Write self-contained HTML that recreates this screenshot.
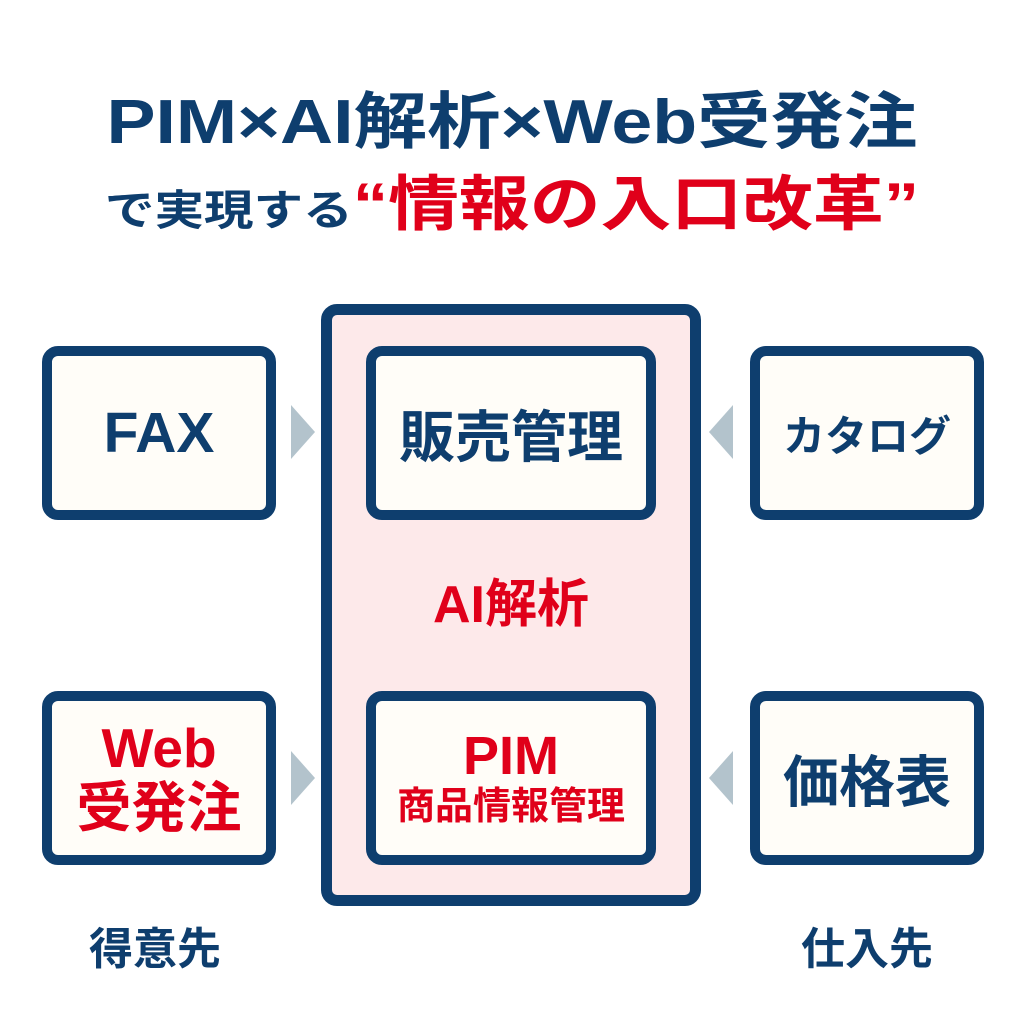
<!DOCTYPE html>
<html><head><meta charset="utf-8"><style>
body{margin:0;width:1024px;height:1024px;background:#fff;position:relative;overflow:hidden;font-family:"Liberation Sans","Noto Sans CJK JP",sans-serif;font-weight:bold;color:#0e3e6e}
.a{position:absolute}
.box{position:absolute;box-sizing:border-box;border:10px solid #0e3e6e;border-radius:16px;background:#fffdf8;display:flex;flex-direction:column;align-items:center;justify-content:center;text-align:center}
.red{color:#e0001a}
.tri{position:absolute;width:0;height:0;border-top:27px solid transparent;border-bottom:27px solid transparent}
.r{border-left:24px solid #b3c3cc}
.l{border-right:24px solid #b3c3cc}
</style></head><body>
<div class="a" style="left:0;width:1024px;top:88px;text-align:center;font-size:62px;line-height:70px;transform:scaleX(1.185)">PIM×AI解析×Web受発注</div>
<div class="a" style="left:0;width:1024px;top:170px;text-align:center;line-height:70px;white-space:nowrap;transform:scaleX(1.18)"><span style="font-size:42px">で実現する</span><span class="red" style="font-size:60px">“情報の入口改革”</span></div>

<div class="box" style="left:321px;top:304px;width:380px;height:602px;background:#fde9ea;border-width:11px"></div>
<div class="box" style="left:366px;top:346px;width:290px;height:174px;font-size:56px">販売管理</div>
<div class="a red" style="left:321px;width:380px;top:575px;text-align:center;font-size:52px;line-height:60px">AI解析</div>
<div class="box" style="left:366px;top:691px;width:290px;height:174px"><div class="red" style="font-size:54px;line-height:58px">PIM</div><div class="red" style="font-size:38px;line-height:44px">商品情報管理</div></div>

<div class="box" style="left:42px;top:346px;width:234px;height:174px;font-size:57px">FAX</div>
<div class="box" style="left:42px;top:691px;width:234px;height:174px;font-size:55px;line-height:60px"><div class="red">Web</div><div class="red">受発注</div></div>
<div class="box" style="left:750px;top:346px;width:234px;height:174px;font-size:42px">カタログ</div>
<div class="box" style="left:750px;top:691px;width:234px;height:174px;font-size:56px">価格表</div>

<div class="tri r" style="left:291px;top:405px"></div>
<div class="tri r" style="left:291px;top:751px"></div>
<div class="tri l" style="left:709px;top:405px"></div>
<div class="tri l" style="left:709px;top:751px"></div>

<div class="a" style="left:38px;width:234px;top:924px;text-align:center;font-size:44px;line-height:52px">得意先</div>
<div class="a" style="left:750px;width:234px;top:924px;text-align:center;font-size:44px;line-height:52px">仕入先</div>
</body></html>
